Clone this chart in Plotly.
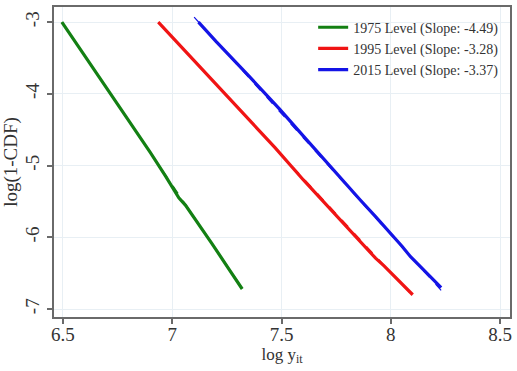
import plotly.graph_objects as go

# Empirical log(1-CDF) curves against log income
x_1975 = [6.495, 6.60, 6.70, 6.805, 6.90, 6.97, 7.00, 7.03, 7.06, 7.13, 7.18, 7.25, 7.32]
y_1975 = [-3.00, -3.47, -3.92, -4.40, -4.82, -5.15, -5.30, -5.45, -5.55, -5.85, -6.08, -6.40, -6.72]

x_1995 = [6.936, 7.03, 7.15, 7.30, 7.47, 7.60, 7.745, 7.86, 7.93, 7.97, 8.02, 8.06, 8.10]
y_1995 = [-3.00, -3.31, -3.70, -4.19, -4.75, -5.20, -5.68, -6.06, -6.29, -6.40, -6.56, -6.68, -6.80]

x_2015 = [7.12, 7.20, 7.35, 7.49, 7.60, 7.71, 7.79, 7.86, 7.93, 8.00, 8.05, 8.09, 8.16, 8.23]
y_2015 = [-3.00, -3.27, -3.75, -4.21, -4.59, -4.97, -5.24, -5.48, -5.71, -5.94, -6.12, -6.27, -6.49, -6.70]

# Fitted Pareto slopes shown in the legend
slopes = {"1975": -4.49, "1995": -3.28, "2015": -3.37}
fit_start = {"1975": (6.495, -3.00), "1995": (6.936, -3.00), "2015": (7.10, -2.93)}
fit_end_x = {"1975": 7.32, "1995": 8.10, "2015": 8.23}

colors = {"1975": "#138013", "1995": "#f01414", "2015": "#1414e6"}
series = {"1975": (x_1975, y_1975), "1995": (x_1995, y_1995), "2015": (x_2015, y_2015)}

serif = "Liberation Serif, Times New Roman, serif"
ink = "#333333"

fig = go.Figure()

# dashed fitted lines underneath the empirical curves
for yr in ["1975", "1995", "2015"]:
    x0, y0 = fit_start[yr]
    x1 = fit_end_x[yr]
    y1 = y0 + slopes[yr] * (x1 - x0)
    fig.add_trace(go.Scatter(
        x=[x0, x1], y=[y0, y1], mode="lines",
        line=dict(color=colors[yr], width=1.2, dash="dash"),
        showlegend=False, hoverinfo="skip"))

for yr in ["1975", "1995", "2015"]:
    xs, ys = series[yr]
    fig.add_trace(go.Scatter(
        x=xs, y=ys, mode="lines",
        line=dict(color=colors[yr], width=3.2),
        name=f"{yr} Level (Slope: {slopes[yr]:.2f})"))

fig.update_layout(
    width=517, height=371,
    margin=dict(l=54, r=5, t=6, b=54),
    paper_bgcolor="white", plot_bgcolor="white",
    font=dict(family=serif, color=ink),
    legend=dict(x=0.985, y=0.985, xanchor="right", yanchor="top",
                bgcolor="rgba(255,255,255,0)", font=dict(size=14, family=serif, color=ink),
                itemwidth=30, tracegroupgap=0),
)

fig.update_xaxes(
    range=[6.459, 8.545],
    tickvals=[6.5, 7, 7.5, 8, 8.5], ticktext=["6.5", "7", "7.5", "8", "8.5"],
    tickfont=dict(size=19, family=serif, color=ink),
    ticklabelstandoff=-6,
    showgrid=True, gridcolor="#e8eff4", gridwidth=1,
    showline=True, linecolor="#6a6a6a", linewidth=2, mirror=True,
    ticks="outside", ticklen=5, tickcolor="#6a6a6a", tickwidth=1.5,
    zeroline=False,
    title=dict(text="log y<sub>it</sub>", font=dict(size=17, family=serif, color=ink), standoff=4),
)
fig.update_yaxes(
    range=[-7.11, -2.79],
    tickvals=[-3, -4, -5, -6, -7], ticktext=["-3", "-4", "-5", "-6", "-7"],
    tickangle=-90,
    tickfont=dict(size=19, family=serif, color=ink),
    showgrid=True, gridcolor="#e8eff4", gridwidth=1,
    showline=True, linecolor="#6a6a6a", linewidth=2, mirror=True,
    ticks="outside", ticklen=5, tickcolor="#6a6a6a", tickwidth=1.5,
    zeroline=False,
    title=dict(text="log(1-CDF)", font=dict(size=19, family=serif, color=ink), standoff=4),
)

fig.write_html("out.html")
